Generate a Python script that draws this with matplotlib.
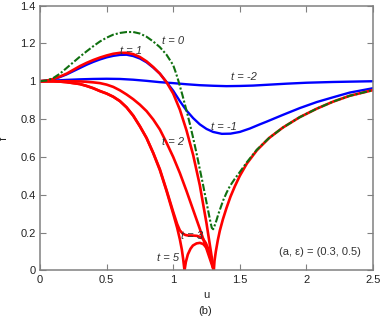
import matplotlib
matplotlib.use("Agg")
import matplotlib.pyplot as plt

plt.rcParams['font.family'] = ['Liberation Sans', 'DejaVu Sans']
plt.rcParams['font.size'] = 8

# t = 0 (green, dash-dot)
u_t0 = [0, 0.05, 0.1, 0.15, 0.2, 0.25, 0.3, 0.35, 0.4, 0.45, 0.5, 0.55, 0.6, 0.65, 0.7,
        0.75, 0.8, 0.85, 0.9, 0.95, 1.0, 1.02, 1.04, 1.07, 1.1, 1.125, 1.15, 1.175, 1.2,
        1.225, 1.25, 1.27, 1.28, 1.29, 1.3, 1.31, 1.325, 1.34, 1.36, 1.375, 1.4, 1.425,
        1.463, 1.5, 1.553, 1.628, 1.72, 1.823, 1.95, 2.078, 2.2, 2.325, 2.5]
f_t0 = [1.0, 1.004, 1.017, 1.04, 1.07, 1.1, 1.13, 1.158, 1.185, 1.21, 1.23, 1.246, 1.255,
        1.26, 1.26, 1.252, 1.235, 1.21, 1.18, 1.14, 1.085, 1.045, 1.0, 0.925, 0.845, 0.775,
        0.70, 0.62, 0.535, 0.45, 0.36, 0.29, 0.255, 0.225, 0.218, 0.235, 0.265, 0.30, 0.34,
        0.37, 0.41, 0.445, 0.485, 0.52, 0.572, 0.638, 0.70, 0.755, 0.81, 0.855, 0.892,
        0.923, 0.953]

# right branch shared by the red curves after the cusp
u_right = [1.305, 1.31, 1.32, 1.335, 1.35, 1.373, 1.4, 1.43, 1.463, 1.5, 1.553, 1.628,
           1.72, 1.823, 1.95, 2.078, 2.2, 2.325, 2.5]
f_right = [0.0, 0.05, 0.1, 0.16, 0.21, 0.27, 0.33, 0.39, 0.445, 0.5, 0.565, 0.635, 0.70,
           0.755, 0.81, 0.855, 0.892, 0.923, 0.953]

# t = 1
u_t1 = [0, 0.05, 0.1, 0.15, 0.2, 0.25, 0.3, 0.35, 0.4, 0.45, 0.5, 0.55, 0.6, 0.65, 0.7,
        0.75, 0.8, 0.85, 0.9, 0.95, 1.0, 1.05, 1.1, 1.15, 1.2, 1.25, 1.305]
f_t1 = [1.0, 1.003, 1.012, 1.025, 1.04, 1.06, 1.08, 1.097, 1.112, 1.125, 1.136, 1.145,
        1.15, 1.15, 1.143, 1.128, 1.105, 1.075, 1.04, 0.995, 0.935, 0.85, 0.74, 0.61,
        0.45, 0.25, 0.0]

# t = 2
u_t2 = [0, 0.1, 0.2, 0.3, 0.35, 0.4, 0.45, 0.5, 0.55, 0.6, 0.65, 0.7, 0.75, 0.8, 0.85,
        0.9, 0.95, 1.0, 1.05, 1.1, 1.15, 1.2, 1.25, 1.305]
f_t2 = [1.0, 1.0, 1.0, 0.999, 0.997, 0.994, 0.99, 0.982, 0.97, 0.952, 0.93, 0.905, 0.876,
        0.842, 0.798, 0.745, 0.675, 0.60, 0.515, 0.42, 0.32, 0.22, 0.115, 0.0]

# t = 3
u_t3 = [0, 0.1, 0.15, 0.2, 0.25, 0.3, 0.35, 0.4, 0.45, 0.5, 0.55, 0.6, 0.65, 0.7, 0.75,
        0.8, 0.85, 0.9, 0.95, 1.0, 1.03, 1.05, 1.07, 1.09, 1.11, 1.14, 1.178, 1.2, 1.223,
        1.245, 1.26, 1.285, 1.305]
f_t3 = [1.0, 1.0, 0.998, 0.995, 0.99, 0.985, 0.975, 0.963, 0.948, 0.935, 0.918, 0.895,
        0.862, 0.818, 0.762, 0.70, 0.622, 0.535, 0.425, 0.31, 0.245, 0.212, 0.196, 0.188,
        0.185, 0.185, 0.183, 0.178, 0.168, 0.145, 0.12, 0.06, 0.0]

# t = 5
u_t5 = [0, 0.1, 0.15, 0.2, 0.25, 0.3, 0.35, 0.4, 0.45, 0.5, 0.55, 0.6, 0.65, 0.7, 0.75,
        0.8, 0.85, 0.9, 0.95, 1.0, 1.03, 1.05, 1.065, 1.075, 1.085, 1.095, 1.11, 1.13,
        1.148, 1.175, 1.2, 1.225, 1.253, 1.275, 1.29, 1.305]
f_t5 = [1.0, 1.0, 0.998, 0.995, 0.99, 0.985, 0.975, 0.963, 0.948, 0.935, 0.918, 0.895,
        0.862, 0.818, 0.762, 0.70, 0.62, 0.53, 0.42, 0.30, 0.225, 0.165, 0.11, 0.06, 0.0,
        0.045, 0.085, 0.115, 0.132, 0.143, 0.146, 0.14, 0.118, 0.08, 0.045, 0.0]

# t = -1
u_tm1 = [0, 0.05, 0.1, 0.15, 0.2, 0.25, 0.3, 0.35, 0.4, 0.45, 0.5, 0.55, 0.6, 0.65, 0.7,
         0.75, 0.8, 0.85, 0.9, 0.95, 1.0, 1.05, 1.1, 1.15, 1.2, 1.25, 1.3, 1.365, 1.43,
         1.5, 1.575, 1.65, 1.7, 1.823, 1.95, 2.078, 2.2, 2.325, 2.5]
f_tm1 = [1.0, 1.003, 1.01, 1.022, 1.036, 1.053, 1.07, 1.087, 1.102, 1.115, 1.126, 1.134,
         1.139, 1.14, 1.133, 1.12, 1.10, 1.072, 1.04, 0.995, 0.95, 0.895, 0.845, 0.805,
         0.772, 0.748, 0.732, 0.722, 0.723, 0.732, 0.75, 0.772, 0.786, 0.822, 0.858, 0.89,
         0.915, 0.94, 0.963]

# t = -2
u_tm2 = [0, 0.1, 0.2, 0.3, 0.4, 0.5, 0.6, 0.7, 0.8, 0.9, 1.0, 1.1, 1.2, 1.3, 1.4, 1.5,
         1.6, 1.7, 1.85, 2.0, 2.2, 2.5]
f_tm2 = [1.0, 1.003, 1.007, 1.01, 1.012, 1.013, 1.012, 1.008, 1.002, 0.995, 0.99, 0.984,
         0.979, 0.976, 0.974, 0.975, 0.977, 0.981, 0.987, 0.992, 0.996, 1.0]

curve_labels = ["t = 0", "t = 1", "t = -2", "t = -1", "t = 2", "t = 3", "t = 5"]
label_u = [1.0, 0.68, 1.53, 1.38, 1.0, 1.14, 0.96]
label_f = [1.21, 1.16, 1.02, 0.76, 0.68, 0.18, 0.065]

fig = plt.figure(figsize=(3.82, 3.17), dpi=100)
ax = fig.add_axes([0.1047, 0.1467, 0.9764 - 0.1047, 0.9826 - 0.1467])

red = '#ff0000'
blue = '#0000ff'
ax.plot(u_tm2, f_tm2, color=blue, lw=1.7)
ax.plot(u_tm1, f_tm1, color=blue, lw=1.7)
for uu, ff in [(u_t1, f_t1), (u_t2, f_t2), (u_t3, f_t3), (u_t5, f_t5)]:
    ax.plot(uu, ff, color=red, lw=1.9, solid_joinstyle='round')
ax.plot(u_right, f_right, color=red, lw=1.9, solid_joinstyle='round')
ax.plot(u_t0, f_t0, color='#107010', lw=1.5, linestyle=(0, (3.5, 1.0, 1, 1.0)))

for lab, x, y in zip(curve_labels, label_u, label_f):
    ax.text(x, y, lab, fontstyle='italic', color='#333333', ha='center', va='center',
            fontsize=8)
ax.text(2.1, 0.10, "(a, \u03b5) = (0.3, 0.5)", color='#333333', ha='center', va='center',
        fontsize=8)

ax.set_xlim(0, 2.5)
ax.set_ylim(0, 1.4)
ax.set_xticks([0, 0.5, 1, 1.5, 2, 2.5])
ax.set_xticklabels(["0", "0.5", "1", "1.5", "2", "2.5"])
ax.set_yticks([0, 0.2, 0.4, 0.6, 0.8, 1, 1.2, 1.4])
ax.set_yticklabels(["0", "0.2", "0.4", "0.6", "0.8", "1", "1.2", "1.4"])
ax.tick_params(direction='in', length=4, width=0.8, color='#808080', top=True,
               right=True, labelsize=8, labelcolor='#222222', pad=3)
for s in ax.spines.values():
    s.set_color('#808080')
    s.set_linewidth(1.1)

ax.set_xlabel("u", fontsize=8, color='#222222', labelpad=4)
ax.set_ylabel("f", fontsize=8, color='#222222', labelpad=8)
fig.text(0.537, 0.019, "(b)", ha='center', va='center', fontsize=8, color='#222222')

fig.savefig("out.png", dpi=100)
